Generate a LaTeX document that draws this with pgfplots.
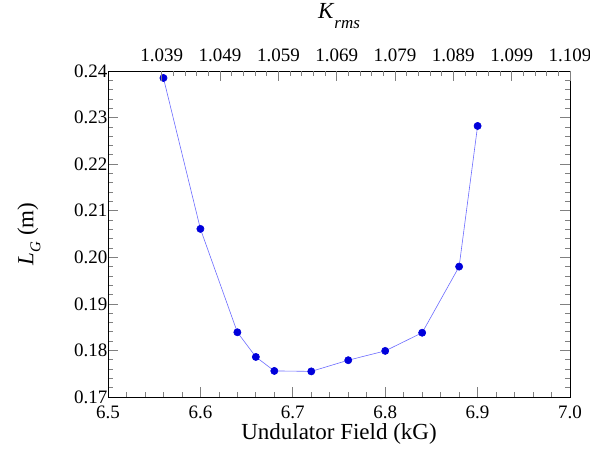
\documentclass[border=0pt]{standalone}
\usepackage{fontspec}
\setmainfont{Liberation Serif}
\usepackage{pgfplots}
\pgfplotsset{compat=1.18}
\definecolor{ptblue}{rgb}{0.0,0.0,0.86}
\definecolor{lnblue}{rgb}{0.42,0.42,1.0}
\begin{document}
\begin{tikzpicture}
\begin{axis}[name=main,
  scale only axis, width=462pt, height=326pt,
  xmin=6.5, xmax=7.0, ymin=0.17, ymax=0.24,
  xtick={6.5,6.6,6.7,6.8,6.9,7.0},
  xticklabels={6.5,6.6,6.7,6.8,6.9,7.0},
  ytick={0.17,0.18,0.19,0.20,0.21,0.22,0.23,0.24},
  yticklabels={0.17,0.18,0.19,0.20,0.21,0.22,0.23,0.24},
  minor x tick num=4, minor y tick num=4,
  xtick pos=left, ytick pos=both, yticklabel pos=left,
  major tick length=10pt, minor tick length=5pt,
  tick style={line width=0.7pt},
  axis line style={line width=0.8pt},
  ticklabel style={font=\fontsize{19}{19}\selectfont},
  xticklabel style={yshift=-5pt},
  yticklabel style={xshift=3pt},
  /pgf/number format/assume math mode=true,
  xlabel={Undulator Field (kG)},
  xlabel style={font=\fontsize{23}{23}\selectfont, at={(axis description cs:0.5,0)}, anchor=center, yshift=-37pt},
  ylabel={\textit{L}\raisebox{-7pt}{\fontsize{15}{15}\selectfont\textit{G}} (m)},
  ylabel style={font=\fontsize{23}{23}\selectfont, at={(axis description cs:-0.171,0.5)}, anchor=center},
]
\addplot[color=lnblue, line width=0.6pt, mark=*, mark size=3.6pt,
  mark options={draw=ptblue, fill=ptblue}] coordinates {
  (6.56,0.2385) (6.60,0.2061) (6.64,0.1839) (6.66,0.1786) (6.68,0.1756)
  (6.72,0.1755) (6.76,0.1779) (6.80,0.1799) (6.84,0.1838) (6.88,0.1980)
  (6.90,0.2282)
};
\end{axis}
\begin{axis}[
  scale only axis, width=462pt, height=326pt,
  xmin=1.029786, xmax=1.109, ymin=0.17, ymax=0.24,
  ytick=\empty, y axis line style={draw=none},
  xtick={1.039,1.049,1.059,1.069,1.079,1.089,1.099,1.109},
  xticklabels={1.039,1.049,1.059,1.069,1.079,1.089,1.099,1.109},
  minor x tick num=4,
  xtick pos=right, xticklabel pos=right,
  major tick length=10pt, minor tick length=5pt,
  tick style={line width=0.7pt},
  axis line style={line width=0.8pt},
  ticklabel style={font=\fontsize{19}{19}\selectfont},
  xticklabel style={yshift=6pt},
  /pgf/number format/assume math mode=true,
  xlabel={\textit{K}\raisebox{-10pt}{\fontsize{17}{17}\selectfont\textit{rms}}},
  xlabel style={font=\fontsize{23}{23}\selectfont, at={(axis description cs:0.5,1)}, anchor=base, yshift=52pt},
]
\end{axis}
\pgfresetboundingbox
\path ([xshift=-108pt,yshift=-60pt]main.south west) rectangle ([xshift=20pt,yshift=71pt]main.north east);
\end{tikzpicture}
\end{document}
